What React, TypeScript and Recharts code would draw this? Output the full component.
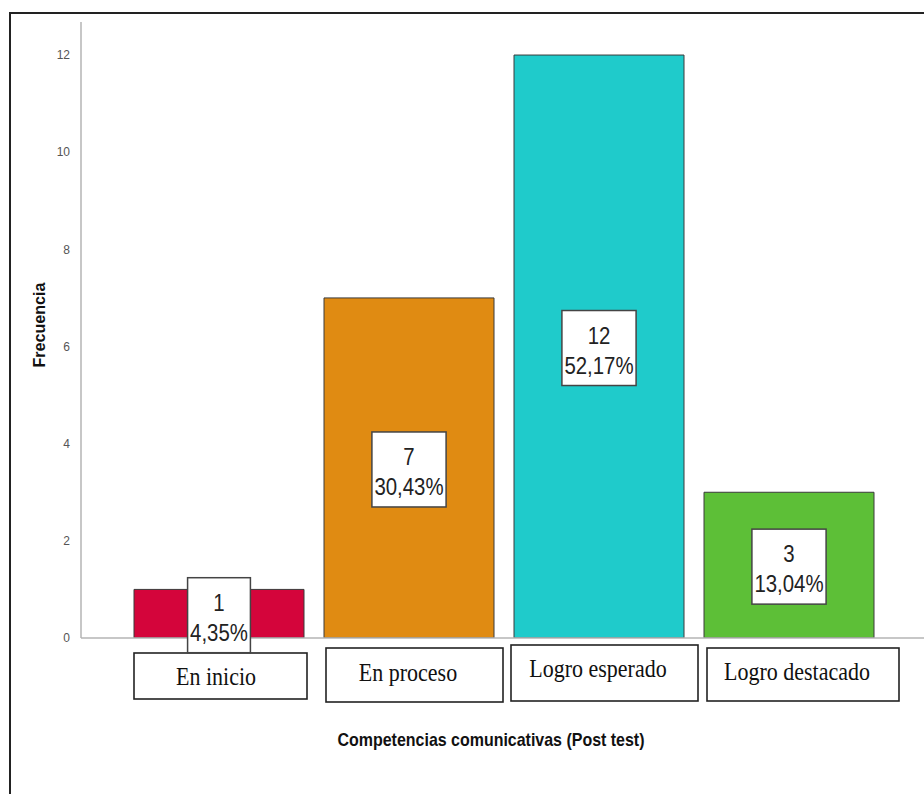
import React from 'react';
import { BarChart, Bar, XAxis, YAxis, Cell, LabelList } from 'recharts';

const categories = ['En inicio', 'En proceso', 'Logro esperado', 'Logro destacado'];
const frequencies = [1, 7, 12, 3];
const percentLabels = ['4,35%', '30,43%', '52,17%', '13,04%'];
const barColors = ['#D4053B', '#E08B12', '#1FCBCB', '#5DBF37'];
const yTicks = [0, 2, 4, 6, 8, 10, 12];

// visual styling of the category boxes (offsets from the tick anchor)
const tickBoxStyles = [
  { dx: -85, w: 173, dy: 15, h: 46, ty: 47, tdx: -3 },
  { dx: -83, w: 177, dy: 10, h: 54, ty: 43, tdx: -1 },
  { dx: -88, w: 187, dy: 7, h: 56, ty: 39, tdx: -1 },
  { dx: -82, w: 192, dy: 10, h: 53, ty: 42, tdx: 8 },
];

const data = categories.map((name, i) => ({
  name,
  freq: frequencies[i],
  pct: percentLabels[i],
}));

const charW: Record<string, number> = { ',': 0.278, '%': 0.889 };
const textWidth = (s: string, size: number) =>
  s.split('').reduce((a, c) => a + (charW[c] ?? 0.556), 0) * size;

const CategoryTick = (props: any) => {
  const { x, y, payload, index } = props;
  const st = tickBoxStyles[index] || tickBoxStyles[0];
  const ax = Number(x);
  const ay = Number(y);
  return (
    <g>
      <rect
        x={ax + st.dx}
        y={ay + st.dy}
        width={st.w}
        height={st.h}
        fill="#fff"
        stroke="#222"
        strokeWidth={1.6}
      />
      <text
        x={0}
        y={0}
        transform={`translate(${ax + st.tdx},${ay + st.ty}) scale(1,1.15)`}
        textAnchor="middle"
        fontFamily="'Liberation Serif', 'Times New Roman', serif"
        fontSize={22}
        fill="#111"
      >
        {payload.value}
      </text>
    </g>
  );
};

const BarValueLabel = (props: any) => {
  const { x, y, width, height, value } = props;
  const [n, p] = String(value).split('|');
  const cx = Number(x) + Number(width) / 2;
  const cy = Number(y) + Number(height) / 2 + 2;
  const fs = 24;
  const sx = 0.85;
  const w = Math.max(textWidth(n, fs), textWidth(p, fs)) * sx + 5;
  return (
    <g>
      <rect
        x={cx - w / 2}
        y={cy - 38}
        width={w}
        height={75}
        fill="#fff"
        stroke="#444"
        strokeWidth={1.5}
      />
      <text
        x={0}
        y={0}
        transform={`translate(${cx},${cy - 5}) scale(${sx},1)`}
        textAnchor="middle"
        fontFamily="'Liberation Sans', Arial, sans-serif"
        fontSize={fs}
        fill="#222"
      >
        {n}
      </text>
      <text
        x={0}
        y={0}
        transform={`translate(${cx},${cy + 25}) scale(${sx},1)`}
        textAnchor="middle"
        fontFamily="'Liberation Sans', Arial, sans-serif"
        fontSize={fs}
        fill="#222"
      >
        {p}
      </text>
    </g>
  );
};

export default function App() {
  return (
    <div
      style={{
        position: 'absolute',
        left: 0,
        top: 0,
        width: 924,
        height: 794,
        background: '#fff',
        overflow: 'hidden',
      }}
    >
      <BarChart
        width={924}
        height={794}
        data={data}
        margin={{ top: 22, right: 0, left: 0, bottom: 36 }}
        barSize={170}
      >
        <YAxis
          width={81}
          domain={[0, 12.68]}
          ticks={yTicks}
          allowDataOverflow
          axisLine={{ stroke: '#b5b5b5', strokeWidth: 1.5 }}
          tickLine={false}
          tickMargin={5}
          tick={{ fontSize: 12, fill: '#555', fontFamily: "'Liberation Sans', Arial, sans-serif" }}
        />
        <XAxis
          dataKey="name"
          height={120}
          padding={{ left: 43, right: 40 }}
          axisLine={{ stroke: '#b5b5b5', strokeWidth: 1.5 }}
          tickLine={false}
          tickSize={0}
          tickMargin={0}
          interval={0}
          tick={<CategoryTick />}
        />
        <Bar dataKey="freq" isAnimationActive={false} stroke="#3a3a3a" strokeWidth={1}>
          {data.map((d, i) => (
            <Cell key={d.name} fill={barColors[i]} />
          ))}
          <LabelList
            dataKey={(d: any) => `${d.freq}|${d.pct}`}
            content={<BarValueLabel />}
          />
        </Bar>
      </BarChart>
      <svg
        width={924}
        height={794}
        style={{ position: 'absolute', left: 0, top: 0, pointerEvents: 'none' }}
      >
        <rect x={10} y={13} width={940} height={820} fill="none" stroke="#222" strokeWidth={2} />
        <text
          x={45}
          y={325}
          transform="rotate(-90, 45, 325)"
          textAnchor="middle"
          fontFamily="'Liberation Sans', Arial, sans-serif"
          fontWeight="bold"
          fontSize={17}
          textLength={85}
          lengthAdjust="spacingAndGlyphs"
          fill="#111"
        >
          Frecuencia
        </text>
        <text
          x={491}
          y={746}
          textAnchor="middle"
          fontFamily="'Liberation Sans', Arial, sans-serif"
          fontWeight="bold"
          fontSize={19}
          textLength={307}
          lengthAdjust="spacingAndGlyphs"
          fill="#111"
        >
          Competencias comunicativas (Post test)
        </text>
      </svg>
    </div>
  );
}
